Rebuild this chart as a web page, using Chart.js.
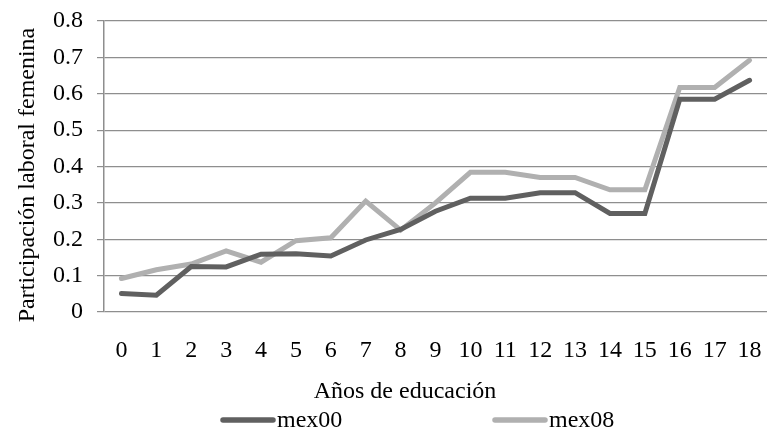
<!DOCTYPE html>
<html>
<head>
<meta charset="utf-8">
<script src="https://cdn.jsdelivr.net/npm/chart.js@4.4.1/dist/chart.umd.min.js"></script>
<style>
  html, body { margin: 0; padding: 0; background: #fff; }
  #wrap { width: 767px; height: 432px; }
</style>
</head>
<body>
<div id="wrap"><canvas id="c" width="767" height="432"></canvas></div>
<script>
// Años de educación (categorías del eje X)
const years = ['0','1','2','3','4','5','6','7','8','9','10','11','12','13','14','15','16','17','18'];

// Participación laboral femenina por años de educación
const mex00 = [0.051, 0.046, 0.125, 0.124, 0.159, 0.160, 0.154, 0.198, 0.227, 0.277, 0.313, 0.313, 0.328, 0.328, 0.271, 0.271, 0.585, 0.585, 0.637];
const mex08 = [0.092, 0.116, 0.132, 0.168, 0.137, 0.196, 0.204, 0.305, 0.225, 0.300, 0.384, 0.384, 0.370, 0.370, 0.336, 0.336, 0.617, 0.617, 0.692];

const seriesNames = ['mex00', 'mex08'];
const seriesColors = ['#606060', '#b0b0b0'];

const xTitle = 'Años de educación';
const yTitle = 'Participación laboral femenina';

const FONT = "'Liberation Serif', 'Times New Roman', serif";
const FONT_SIZE = 24;
const gridColor = '#8e8e8e';

// Títulos de ejes y leyenda dibujados alrededor del área del gráfico
const titlesAndLegend = {
  id: 'titlesAndLegend',
  afterDraw(chart) {
    const ctx = chart.ctx;
    ctx.save();
    ctx.fillStyle = '#000';
    ctx.font = FONT_SIZE + 'px ' + FONT;
    ctx.textBaseline = 'middle';

    // título del eje X
    ctx.textAlign = 'center';
    ctx.fillText(xTitle, 405, 392);

    // título del eje Y (vertical)
    ctx.save();
    ctx.translate(28, 175);
    ctx.rotate(-Math.PI / 2);
    ctx.fillText(yTitle, 0, 0);
    ctx.restore();

    // leyenda
    const positions = [220, 492];
    const y = 420;
    chart.data.datasets.forEach((ds, i) => {
      const x = positions[i];
      ctx.strokeStyle = ds.borderColor;
      ctx.lineWidth = 5.5;
      ctx.lineCap = 'round';
      ctx.beginPath();
      ctx.moveTo(x + 3, y);
      ctx.lineTo(x + 53, y);
      ctx.stroke();
      ctx.textAlign = 'left';
      ctx.fillText(ds.label, x + 57, y + 1);
    });
    ctx.restore();
  }
};

new Chart(document.getElementById('c'), {
  type: 'line',
  data: {
    labels: years,
    datasets: [
      { label: seriesNames[0], data: mex00, borderColor: seriesColors[0], backgroundColor: seriesColors[0] },
      { label: seriesNames[1], data: mex08, borderColor: seriesColors[1], backgroundColor: seriesColors[1] }
    ]
  },
  options: {
    responsive: false,
    animation: false,
    layout: { padding: { top: 21, left: 0, right: 0, bottom: 0 } },
    elements: {
      line: { borderWidth: 5, tension: 0, borderCapStyle: 'round', borderJoinStyle: 'miter' },
      point: { radius: 0, hoverRadius: 0 }
    },
    plugins: {
      legend: { display: false },
      tooltip: { enabled: false }
    },
    scales: {
      x: {
        type: 'category',
        offset: true,
        grid: { display: false, drawTicks: false },
        border: { display: false },
        ticks: { color: '#000', font: { family: FONT, size: FONT_SIZE }, padding: 24, maxRotation: 0, autoSkip: false },
        afterFit(scale) { scale.height = 120; scale.paddingLeft = 0; scale.paddingRight = 0; }
      },
      y: {
        min: 0,
        max: 0.8,
        ticks: {
          stepSize: 0.1,
          color: '#000',
          font: { family: FONT, size: FONT_SIZE },
          padding: 14,
          callback: v => (Math.round(v * 10) / 10).toString()
        },
        grid: { color: gridColor, lineWidth: 1.2, tickLength: 7, drawTicks: true },
        border: { display: true, color: gridColor, width: 1.5 },
        afterFit(scale) { scale.width = 104; scale.paddingTop = 0; scale.paddingBottom = 0; }
      }
    }
  },
  plugins: [titlesAndLegend]
});
</script>
</body>
</html>
